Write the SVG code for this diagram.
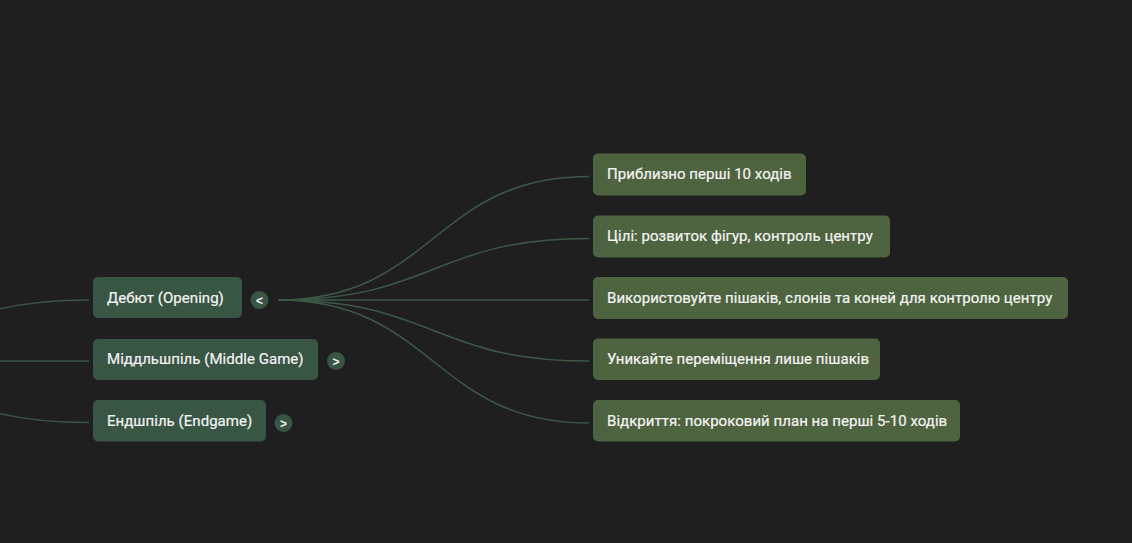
<svg xmlns="http://www.w3.org/2000/svg" width="1132" height="543" viewBox="0 0 1132 543">
<style>
.bg{fill:#1f1f1f}
.p{fill:#395544}
.c{fill:#4e6440}
.t{fill:#f4f4f4;font-family:Roboto,"Noto Sans","Liberation Sans",sans-serif;font-size:15px;letter-spacing:0.04px;stroke:#f4f4f4;stroke-width:0.2px}
.tg{fill:#395544}
.tgt{fill:#f2f2f2;font-family:"Liberation Sans",Roboto,sans-serif;font-size:12px;font-weight:bold;text-anchor:middle}
.ln{fill:none;stroke:#3d5a47;stroke-width:1.5}
.lnl{fill:none;stroke:#3c524a;stroke-width:1.5}
</style>
<rect class="bg" x="0" y="0" width="1132" height="543"/>
<g id="connectors">
<path class="lnl" d="M-222,361 C-67,361 -67,300 89,300"/>
<path class="lnl" d="M-222,361 L89,361"/>
<path class="lnl" d="M-222,361 C-67,361 -67,422.5 89,422.5"/>
<path class="ln" d="M278,300 C433.5,300 433.5,176.5 589,176.5"/>
<path class="ln" d="M278,300 C433.5,300 433.5,238.5 589,238.5"/>
<path class="ln" d="M278,300 L589,300"/>
<path class="ln" d="M278,300 C433.5,300 433.5,361 589,361"/>
<path class="ln" d="M278,300 C433.5,300 433.5,423 589,423"/>
</g>
<g id="node-opening">
<rect class="p" x="93" y="277" width="149" height="41" rx="5"/>
<text class="t" x="107" y="302.5">Дебют (Opening)</text>
</g>
<g id="toggle-opening">
<circle class="tg" cx="259.5" cy="300" r="9"/>
<text class="tgt" x="259.5" y="304.5">&lt;</text>
</g>
<g id="node-middle">
<rect class="p" x="93" y="339" width="225" height="41" rx="5"/>
<text class="t" x="107" y="364">Міддльшпіль (Middle Game)</text>
</g>
<g id="toggle-middle">
<circle class="tg" cx="336" cy="361" r="9"/>
<text class="tgt" x="336" y="365.5">&gt;</text>
</g>
<g id="node-endgame">
<rect class="p" x="93" y="400" width="173" height="41.5" rx="5"/>
<text class="t" x="107" y="425.5">Ендшпіль (Endgame)</text>
</g>
<g id="toggle-endgame">
<circle class="tg" cx="283.5" cy="423" r="9"/>
<text class="tgt" x="283.5" y="427.5">&gt;</text>
</g>
<g id="child-1">
<rect class="c" x="593" y="153.5" width="213" height="42" rx="5"/>
<text class="t" x="607" y="179">Приблизно перші 10 ходів</text>
</g>
<g id="child-2">
<rect class="c" x="593" y="215.5" width="297" height="42" rx="5"/>
<text class="t" x="607" y="241">Цілі: розвиток фігур, контроль центру</text>
</g>
<g id="child-3">
<rect class="c" x="593" y="277" width="475" height="42" rx="5"/>
<text class="t" x="607" y="302.5">Використовуйте пішаків, слонів та коней для контролю центру</text>
</g>
<g id="child-4">
<rect class="c" x="593" y="338.5" width="287" height="41.5" rx="5"/>
<text class="t" x="607" y="364">Уникайте переміщення лише пішаків</text>
</g>
<g id="child-5">
<rect class="c" x="593" y="400" width="367" height="41.5" rx="5"/>
<text class="t" x="607" y="425.5">Відкриття: покроковий план на перші 5-10 ходів</text>
</g>
</svg>
